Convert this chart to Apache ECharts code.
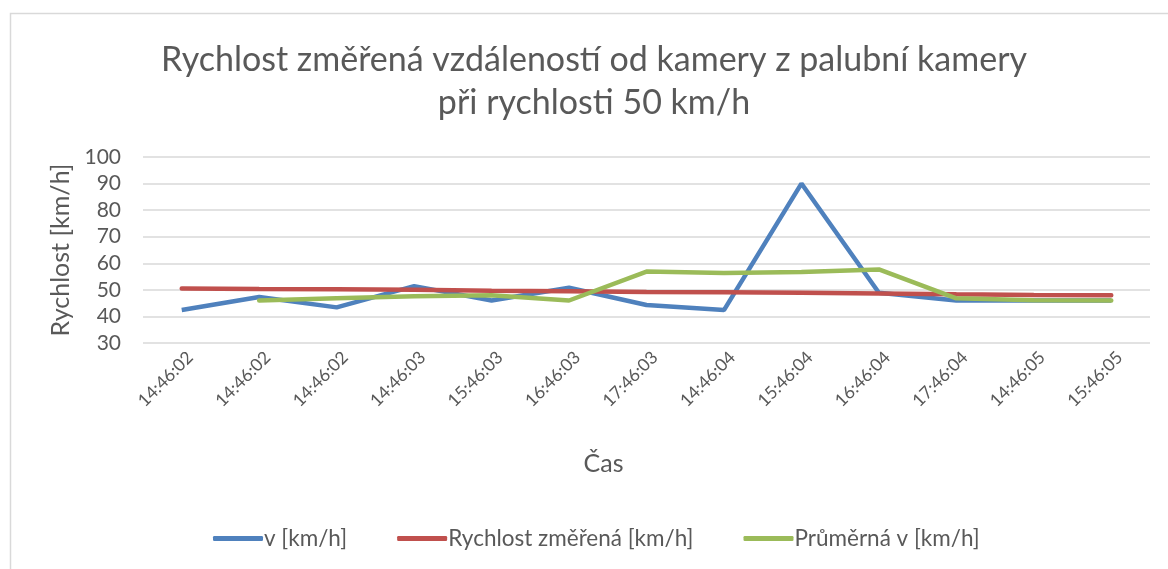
<!DOCTYPE html>
<html><head><meta charset="utf-8">
<script src="https://cdn.jsdelivr.net/npm/echarts@6/dist/echarts.min.js"></script>
<style>html,body{margin:0;padding:0;background:#fff}#c{width:1168px;height:569px}</style>
</head><body><div id="c"></div>
<script>
var categories = ['14:46:02','14:46:02','14:46:02','14:46:03','15:46:03','16:46:03','17:46:03','14:46:04','15:46:04','16:46:04','17:46:04','14:46:05','15:46:05'];
var vKmh = [42.4, 47.3, 43.4, 51.4, 46, 50.8, 44.3, 42.4, 90, 48.9, 46, 46, 46];
var rychlostZmerena = [50.5, 50.3, 50.2, 50, 49.7, 49.5, 49.2, 49.1, 48.9, 48.6, 48.3, 48.1, 48];
var prumernaV = [null, 46, 46.8, 47.6, 48, 46, 56.9, 56.3, 56.7, 57.7, 46.8, 46.1, 46];
var yTicks = {min: 30, max: 100, interval: 10};

var font = 'Lato, Open Sans, sans-serif';
var chart = echarts.init(document.getElementById('c'));
chart.setOption({
  animation: false,
  graphic: [{type:'rect', shape:{x:10.5, y:13.5, width:1200, height:600}, style:{fill:'none', stroke:'#d9d9d9', lineWidth:1.5}, silent:true}],
  title: {
    text: 'Rychlost změřená vzdáleností od kamery z palubní kamery\npři rychlosti 50 km/h',
    left: 589, textAlign: 'center', top: 34,
    textStyle: {fontFamily: font, fontSize: 34, fontWeight: 'normal', color: '#595959', lineHeight: 43}
  },
  grid: {left: 143, right: 18, top: 157, bottom: 226},
  legend: {
    bottom: 14, left: 208, itemWidth: 50, itemHeight: 5, itemGap: 50,
    icon: 'roundRect',
    textStyle: {fontFamily: font, fontSize: 22.5, color: '#595959', padding: [0,0,0,-4]},
    data: ['v [km/h]', 'Rychlost změřená [km/h]', 'Průměrná v [km/h]']
  },
  xAxis: {
    type: 'category', data: categories, boundaryGap: true,
    name: 'Čas', nameLocation: 'middle', nameGap: 108,
    nameTextStyle: {fontFamily: font, fontSize: 25, color: '#595959', padding: [0, 86, 0, 0]},
    axisLine: {show: false}, axisTick: {show: false},
    axisLabel: {rotate: 45, interval: 0, fontFamily: font, fontSize: 17.5, color: '#595959', margin: 20, padding: [0, -12, 0, 0]}
  },
  yAxis: {
    type: 'value', min: yTicks.min, max: yTicks.max, interval: yTicks.interval,
    name: 'Rychlost [km/h]', nameLocation: 'middle', nameGap: 66,
    nameTextStyle: {fontFamily: font, fontSize: 25, color: '#595959'},
    axisLabel: {fontFamily: font, fontSize: 21, color: '#595959', margin: 22},
    axisLine: {show: false}, axisTick: {show: false},
    splitLine: {lineStyle: {color: '#d9d9d9', width: 1.5}}
  },
  series: [
    {name: 'v [km/h]', type: 'line', data: vKmh, symbol: 'none', lineStyle: {width: 4.5, color: '#4f81bd'}, itemStyle: {color: '#4f81bd'}},
    {name: 'Rychlost změřená [km/h]', type: 'line', data: rychlostZmerena, symbol: 'none', lineStyle: {width: 4.5, color: '#c0504d', cap: 'round'}, itemStyle: {color: '#c0504d'}},
    {name: 'Průměrná v [km/h]', type: 'line', data: prumernaV, symbol: 'none', lineStyle: {width: 4.5, color: '#9bbb59', cap: 'round'}, itemStyle: {color: '#9bbb59'}}
  ]
});
</script></body></html>
